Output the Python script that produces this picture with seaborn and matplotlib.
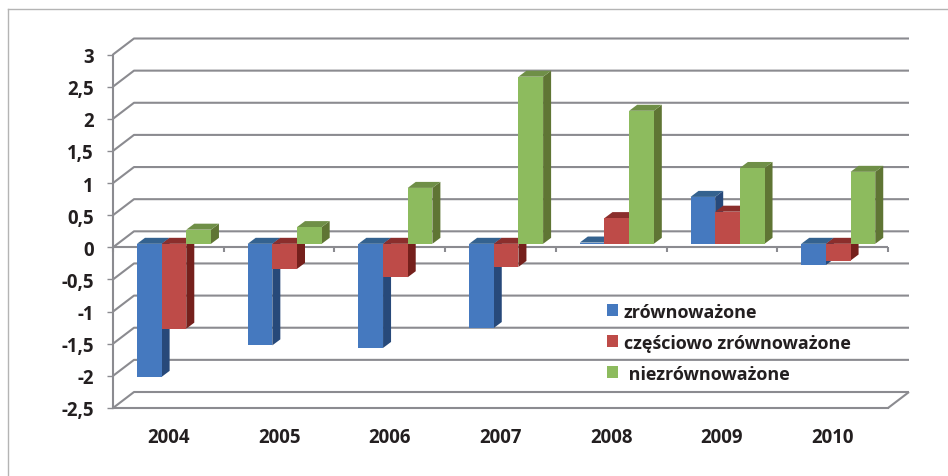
import matplotlib
matplotlib.use("Agg")
import matplotlib.pyplot as plt
from matplotlib.lines import Line2D
import pandas as pd
import seaborn as sns

years = ["2004", "2005", "2006", "2007", "2008", "2009", "2010"]
balanced = [-2.07, -1.58, -1.62, -1.31, 0.02, 0.73, -0.33]
partly_balanced = [-1.32, -0.39, -0.52, -0.36, 0.40, 0.50, -0.26]
unbalanced = [0.22, 0.26, 0.87, 2.60, 2.07, 1.18, 1.12]
series_names = ["zrównoważone", "częściowo zrównoważone", " niezrównoważone"]
y_ticks = [-2.5, -2, -1.5, -1, -0.5, 0, 0.5, 1, 1.5, 2, 2.5, 3]

front_colors = ["#4579BF", "#BE4B48", "#8DBB5E"]
side_colors = ["#27497A", "#75201C", "#5F7534"]
top_colors = ["#34628F", "#8B2E2C", "#6F8F47"]
GRID = "#8B8B90"
INK = "#231F20"
FONT = ["Open Sans", "DejaVu Sans"]
AXIS_SIZE = 13.4
LEGEND_SIZE = 13

W, H = 948, 477
LEFT, RIGHT, TOP, BOTTOM = 113, 888, 55.5, 409
PX_X = (RIGHT - LEFT) / len(years)
PX_Y = (BOTTOM - TOP) / 5.5

# Oblique projection offsets, in data units
WALL_DX, WALL_DY = 21 / PX_X, 16 / PX_Y
BAR_DX, BAR_DY = 5.6 / PX_X, 3.5 / PX_Y
FACE_DX, FACE_DY = 8 / PX_X, 6 / PX_Y
BAR_GROUP = 74 / PX_X

plt.rcParams["font.family"] = FONT

df = pd.DataFrame({
    "year": years * 3,
    "value": balanced + partly_balanced + unbalanced,
    "series": [n for n in series_names for _ in years],
})

fig = plt.figure(figsize=(W / 100, H / 100), dpi=100, facecolor="white")
ax = fig.add_axes([LEFT / W, 1 - BOTTOM / H, (RIGHT - LEFT) / W, (BOTTOM - TOP) / H])

sns.barplot(data=df, x="year", y="value", hue="series", hue_order=series_names,
            palette=front_colors, width=BAR_GROUP, gap=0, saturation=1,
            errorbar=None, linewidth=0, zorder=5, clip_on=False, ax=ax)
ax.set_xlim(-0.5, len(years) - 0.5)
ax.set_ylim(-2.5, 3)
ax.set_facecolor("none")

# Back wall gridlines and the slanted lines joining them to the value axis
line_kw = dict(color=GRID, lw=1.5, clip_on=False, solid_capstyle="butt")
x0, x1 = -0.5, len(years) - 0.5
for t in y_ticks:
    ax.plot([x0, x0 + WALL_DX, x1 + WALL_DX], [t, t + WALL_DY, t + WALL_DY], zorder=1, **line_kw)
ax.plot([x0, x1], [0, 0], zorder=2, **line_kw)
ax.plot([x1, x1 + WALL_DX], [-2.5, -2.5 + WALL_DY], zorder=1, **line_kw)
for i in range(len(years) + 1):
    ax.plot([x0 + i, x0 + i], [0, -5 / PX_Y], zorder=2, **line_kw)

# Extruded side and top faces, drawn series by series so later bars overlap earlier ones
for k, container in enumerate(ax.containers):
    for bar in container:
        bar.set_x(bar.get_x() + BAR_DX)
        bar.set_y(bar.get_y() + BAR_DY)
        bar.set_zorder(5 + 2 * k + 1)
        xl, xr = bar.get_x(), bar.get_x() + bar.get_width()
        lo = min(bar.get_y(), bar.get_y() + bar.get_height())
        hi = max(bar.get_y(), bar.get_y() + bar.get_height())
        ax.fill([xr, xr + FACE_DX, xr + FACE_DX, xr],
                [lo, lo + FACE_DY, hi + FACE_DY, hi],
                color=side_colors[k], lw=0, zorder=5 + 2 * k, clip_on=False)
        ax.fill([xl, xr, xr + FACE_DX, xl + FACE_DX],
                [hi, hi, hi + FACE_DY, hi + FACE_DY],
                color=top_colors[k], lw=0, zorder=5 + 2 * k, clip_on=False)

sns.despine(ax=ax, top=True, right=True)
for side in ("left", "bottom"):
    ax.spines[side].set_color(GRID)
    ax.spines[side].set_linewidth(1.5)
ax.set_xlabel("")
ax.set_ylabel("")
ax.set_yticks(y_ticks)
ax.set_yticklabels([f"{t:g}".replace(".", ",") for t in y_ticks])
ax.tick_params(axis="y", length=4.5, width=1, color=GRID, pad=9.5, labelsize=AXIS_SIZE, labelcolor=INK)
ax.tick_params(axis="x", length=0, pad=14, labelsize=AXIS_SIZE, labelcolor=INK)
for label in ax.get_xticklabels() + ax.get_yticklabels():
    label.set_fontweight("bold")

handles, labels = ax.get_legend_handles_labels()
ax.legend(handles, labels, loc="upper left", bbox_to_anchor=(603 / W, 1 - 300 / H),
          bbox_transform=fig.transFigure, frameon=False,
          prop={"family": FONT, "weight": "bold", "size": LEGEND_SIZE},
          handlelength=0.64, handleheight=0.64, handletextpad=0.3,
          labelspacing=0.72, borderpad=0.2, borderaxespad=0, labelcolor=INK)
ax.get_legend().set_zorder(20)

# Thin outer frame, open on the right and at the bottom
frame = dict(color="#B4B4B4", lw=1.0, transform=fig.transFigure)
fig.add_artist(Line2D([8 / W, 8 / W], [0, 1 - 10 / H], **frame))
fig.add_artist(Line2D([8 / W, 1], [1 - 10 / H, 1 - 10 / H], **frame))

fig.savefig("out.png", dpi=100, facecolor="white")
